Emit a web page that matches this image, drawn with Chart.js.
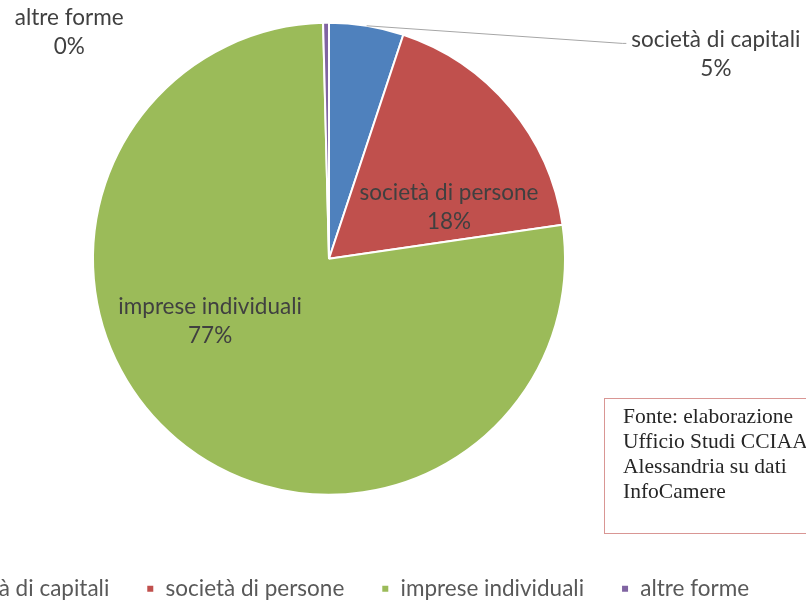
<!DOCTYPE html>
<html>
<head>
<meta charset="utf-8">
<script src="https://cdn.jsdelivr.net/npm/chart.js@4"></script>
<style>
  html, body { margin: 0; padding: 0; background: #fff; overflow: hidden; }
  body { width: 806px; height: 602px; position: relative; }
  #wrap { position: absolute; left: -140px; top: 8px; width: 950px; height: 602px; }
  #note {
    position: absolute; left: 604px; top: 398px; width: 230px; height: 136px;
    border: 1px solid #d99694; box-sizing: border-box; padding: 5px 0 0 18px;
    font-family: "Liberation Serif", serif; font-size: 21.5px; line-height: 25px; color: #262626;
  }
</style>
</head>
<body>
<div id="wrap"><canvas id="pieChart"></canvas></div>
<div id="note">Fonte: elaborazione<br>Ufficio Studi CCIAA<br>Alessandria su dati<br>InfoCamere</div>
<script>
const categories = ['società di capitali', 'società di persone', 'imprese individuali', 'altre forme'];
const shares = [5.1, 17.6, 76.9, 0.4];
const sliceColors = ['#4f81bd', '#c0504d', '#9bbb59', '#8064a2'];

// label placement: angle clockwise from 12 o'clock (deg), distance in radius units
const labelPlace = [
  { angle: 62.1, dist: 1.855, leader: true },
  { angle: 66.8, dist: 0.553 },
  { angle: 242.1, dist: 0.570 },
  { angle: 311.1, dist: 1.461 }
];

const sliceLabels = {
  id: 'sliceLabels',
  afterDatasetsDraw(chart, args, opts) {
    const meta = chart.getDatasetMeta(0);
    const ctx = chart.ctx;
    const total = shares.reduce((s, v) => s + v, 0);
    meta.data.forEach((arc, i) => {
      const p = opts.place[i];
      const { x, y, outerRadius, startAngle, endAngle } =
        arc.getProps(['x', 'y', 'outerRadius', 'startAngle', 'endAngle'], true);
      const a = (p.angle - 90) * Math.PI / 180;
      const lx = x + Math.cos(a) * p.dist * outerRadius;
      const ly = y + Math.sin(a) * p.dist * outerRadius;
      const pct = Math.round(shares[i] / total * 100) + '%';
      ctx.save();
      ctx.font = '22.5px Lato';
      ctx.fillStyle = '#404040';
      ctx.textAlign = 'center';
      ctx.textBaseline = 'middle';
      if (p.leader) {
        const mid = (startAngle + endAngle) / 2;
        const w = ctx.measureText(categories[i]).width;
        const ex = lx - w / 2 - 5, ey = ly - 14.5 + 4;
        ctx.strokeStyle = '#a6a6a6';
        ctx.lineWidth = 1;
        ctx.beginPath();
        ctx.moveTo(x + Math.cos(mid) * outerRadius, y + Math.sin(mid) * outerRadius);
        ctx.lineTo(ex - 4, ey);
        ctx.lineTo(ex, ey);
        ctx.stroke();
      }
      ctx.fillText(categories[i], lx, ly - 14.5);
      ctx.fillText(pct, lx, ly + 14.5);
      ctx.restore();
    });
  }
};

new Chart(document.getElementById('pieChart'), {
  type: 'pie',
  data: {
    labels: categories,
    datasets: [{
      data: shares,
      backgroundColor: sliceColors,
      borderColor: '#ffffff',
      borderWidth: 2,
      radius: 236
    }]
  },
  options: {
    responsive: true,
    maintainAspectRatio: false,
    animation: false,
    layout: { padding: { top: 0, bottom: 0 } },
    scales: {
      // empty right-hand box, only to nudge the pie left of the legend centre
      spacer: {
        type: 'linear', position: 'right', display: true,
        grid: { display: false }, ticks: { display: false }, border: { display: false },
        afterFit: (s) => { s.width = 12; }
      }
    },
    plugins: {
      legend: {
        position: 'bottom',
        title: { display: true, text: ' ', font: { size: 10 }, padding: { top: 0, bottom: 19 } },
        labels: {
          boxWidth: 8, boxHeight: 8, padding: 37,
          color: '#595959',
          font: { family: 'Lato', size: 22.5 }
        }
      },
      tooltip: { enabled: false },
      sliceLabels: { place: labelPlace }
    }
  },
  plugins: [sliceLabels]
});
</script>
</body>
</html>
